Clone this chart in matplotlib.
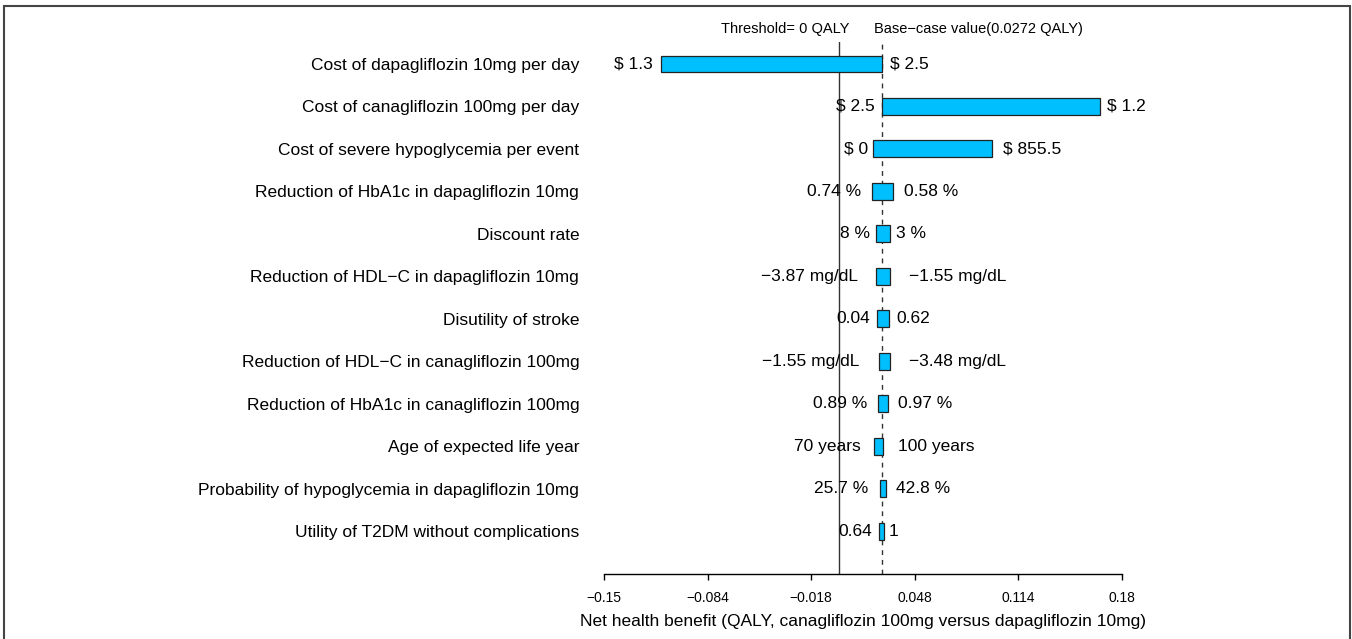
import matplotlib
matplotlib.use("Agg")
import matplotlib.pyplot as plt
from matplotlib.patches import Rectangle

plt.rcParams['font.family'] = ['Liberation Sans', 'DejaVu Sans']

categories = [
    "Cost of dapagliflozin 10mg per day",
    "Cost of canagliflozin 100mg per day",
    "Cost of severe hypoglycemia per event",
    "Reduction of HbA1c in dapagliflozin 10mg",
    "Discount rate",
    "Reduction of HDL\u2212C in dapagliflozin 10mg",
    "Disutility of stroke",
    "Reduction of HDL\u2212C in canagliflozin 100mg",
    "Reduction of HbA1c in canagliflozin 100mg",
    "Age of expected life year",
    "Probability of hypoglycemia in dapagliflozin 10mg",
    "Utility of T2DM without complications",
]
bar_left = [-0.1136, 0.0272, 0.0213, 0.0210, 0.0232, 0.0234, 0.0238, 0.0251, 0.0245, 0.0217, 0.0259, 0.0255]
bar_right = [0.0272, 0.1657, 0.0971, 0.0344, 0.0319, 0.0319, 0.0315, 0.0319, 0.0308, 0.0276, 0.0296, 0.0285]
left_labels = ["$ 1.3", "$ 2.5", "$ 0", "0.74 %", "8 %", "\u22123.87 mg/dL", "0.04",
               "\u22121.55 mg/dL", "0.89 %", "70 years", "25.7 %", "0.64"]
right_labels = ["$ 2.5", "$ 1.2", "$ 855.5", "0.58 %", "3 %", "\u22121.55 mg/dL", "0.62",
                "\u22123.48 mg/dL", "0.97 %", "100 years", "42.8 %", "1"]
threshold = 0.0
base_case = 0.0272
xticks = [-0.15, -0.084, -0.018, 0.048, 0.114, 0.18]
xtick_labels = ["\u22120.15", "\u22120.084", "\u22120.018", "0.048", "0.114", "0.18"]

# layout: label gaps in pixels
left_gap = [8, 7, 5, 11, 6, 18, 7, 19, 11, 13, 12, 7]
right_gap = [8, 7, 11, 11, 6, 19, 7, 19, 10, 15, 10, 4]

W, H = 1352, 639
fig = plt.figure(figsize=(W / 100, H / 100), dpi=100)
ax = fig.add_axes([604 / W, 1 - 574 / H, (1122 - 604) / W, (574 - 42) / H])

n = len(categories)
ys = [n - 1 - i for i in range(n)]

ax.axvline(threshold, color='#333333', lw=1.0, zorder=1)
ax.axvline(base_case, color='#333333', lw=1.0, ls=(0, (3.5, 3.5)), zorder=1)

for i in range(n):
    y = ys[i]
    ax.barh(y, bar_right[i] - bar_left[i], left=bar_left[i], height=0.4,
            color='#00BFFF', edgecolor='#222222', lw=0.9, zorder=3)
    ax.annotate(left_labels[i], (bar_left[i], y), xytext=(-left_gap[i], 0),
                textcoords='offset pixels', ha='right', va='center', fontsize=12.5, zorder=4)
    ax.annotate(right_labels[i], (bar_right[i], y), xytext=(right_gap[i], 0),
                textcoords='offset pixels', ha='left', va='center', fontsize=12.5, zorder=4)

ax.set_xlim(-0.15, 0.18)
ax.set_ylim(-1.01, n - 1 + 0.518)
ax.set_yticks(ys)
ax.set_yticklabels(categories, fontsize=12.5)
ax.tick_params(axis='y', left=False, pad=14.4)
ax.set_xticks(xticks)
ax.set_xticklabels(xtick_labels, fontsize=10)
ax.tick_params(axis='x', direction='out', length=4, width=1, pad=8)
for s in ['top', 'right', 'left']:
    ax.spines[s].set_visible(False)
ax.spines['bottom'].set_linewidth(1)
ax.set_xlabel("Net health benefit (QALY, canagliflozin 100mg versus dapagliflozin 10mg)",
              fontsize=12.5, labelpad=7)

ax.annotate("Threshold= 0 QALY", (0.0064, 1.0), xycoords=ax.get_xaxis_transform(),
            xytext=(0, 6), textcoords='offset pixels',
            ha='right', va='bottom', fontsize=10.5)
ax.annotate("Base\u2212case value(0.0272 QALY)", (0.0221, 1.0), xycoords=ax.get_xaxis_transform(),
            xytext=(0, 6), textcoords='offset pixels',
            ha='left', va='bottom', fontsize=10.5)

fig.patches.append(Rectangle((3.5 / W, -5 / H), (1350 - 3.5) / W, (633 + 5) / H,
                             transform=fig.transFigure, fill=False,
                             edgecolor='#444444', lw=1.5))

fig.savefig("out.png", dpi=100)
